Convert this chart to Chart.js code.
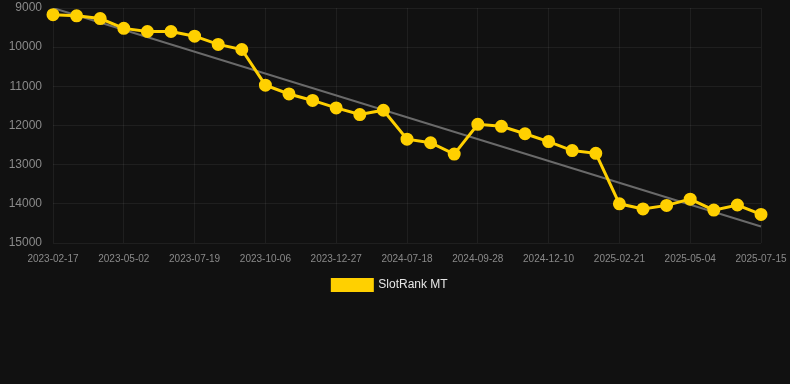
<!DOCTYPE html>
<html>
<head>
<meta charset="utf-8">
<script src="https://cdn.jsdelivr.net/npm/chart.js@4/dist/chart.umd.min.js"></script>
<style>
  html, body { margin: 0; padding: 0; background: #111111; }
  #wrap { width: 790px; height: 384px; }
</style>
</head>
<body>
<div id="wrap"><canvas id="rankChart" width="790" height="384"></canvas></div>
<script>
const dates = [
  "2023-02-17", "2023-03-14", "2023-04-07", "2023-05-02", "2023-05-27", "2023-06-24",
  "2023-07-19", "2023-08-14", "2023-09-10", "2023-10-06", "2023-11-01", "2023-12-01",
  "2023-12-27", "2024-01-25", "2024-05-20", "2024-07-18", "2024-08-12", "2024-09-04",
  "2024-09-28", "2024-10-22", "2024-11-15", "2024-12-10", "2025-01-04", "2025-01-28",
  "2025-02-21", "2025-03-17", "2025-04-10", "2025-05-04", "2025-05-28", "2025-06-21",
  "2025-07-15"
];
const rankValues = [
  9170, 9200, 9270, 9520, 9600, 9600, 9720, 9930, 10060, 10970, 11195,
  11360, 11550, 11720, 11610, 12350, 12440, 12730, 11970, 12020, 12210,
  12410, 12640, 12710, 14000, 14130, 14040, 13880, 14160, 14030, 14270
];
const trendStart = 9000;
const trendEnd = 14580;
const yTicks = [9000, 10000, 11000, 12000, 13000, 14000, 15000];

const trendValues = dates.map((d, i) =>
  i === 0 ? trendStart : (i === dates.length - 1 ? trendEnd : null));

const gridColor = "rgba(255,255,255,0.06)";
const tickColor = "#8a8a8a";

new Chart(document.getElementById("rankChart"), {
  type: "line",
  data: {
    labels: dates,
    datasets: [
      {
        label: "SlotRank MT",
        data: rankValues,
        borderColor: "#ffd000",
        backgroundColor: "#ffd000",
        borderWidth: 3,
        pointRadius: 5,
        pointHoverRadius: 5,
        pointBackgroundColor: "#ffd000",
        pointBorderColor: "#ffd000",
        tension: 0,
        order: 1
      },
      {
        label: "trend",
        data: trendValues,
        borderColor: "#6a6a6a",
        borderWidth: 2,
        pointRadius: 0,
        spanGaps: true,
        order: 2
      }
    ]
  },
  options: {
    responsive: false,
    animation: false,
    layout: { padding: { left: 0, right: 10, top: 6, bottom: 83 } },
    scales: {
      x: {
        grid: {
          color: ctx => (ctx.index % 3 === 0 ? gridColor : "rgba(0,0,0,0)"),
          drawTicks: false
        },
        border: { display: false },
        ticks: {
          color: tickColor,
          font: { family: "Liberation Sans, Arial", size: 10 },
          autoSkip: false,
          maxRotation: 0,
          padding: 10,
          callback: function (val, i) {
            return i % 3 === 0 ? dates[i] : "";
          }
        },
        afterFit: s => {
          s.paddingLeft = 0;
          s.paddingRight = 0;
          s.height = 26;
        }
      },
      y: {
        reverse: true,
        min: 9000,
        max: 15000,
        afterBuildTicks: axis => { axis.ticks = yTicks.map(v => ({ value: v })); },
        grid: { color: gridColor, drawTicks: false },
        border: { display: false },
        ticks: {
          color: tickColor,
          font: { family: "Liberation Sans, Arial", size: 12 },
          padding: 11,
          callback: v => String(v)
        },
        afterFit: s => {
          s.paddingTop = 0;
          s.paddingBottom = 0;
          s.width = 53;
        }
      },
      // empty right-hand axis, only to keep room for the last date label
      ySpacer: {
        position: "right",
        min: 0,
        max: 1,
        grid: { display: false },
        border: { display: false },
        ticks: { display: false },
        afterFit: s => {
          s.paddingTop = 0;
          s.paddingBottom = 0;
          s.width = 19;
        }
      }
    },
    plugins: {
      legend: {
        position: "bottom",
        labels: {
          color: "#e6e6e6",
          boxWidth: 40,
          boxHeight: 11,
          font: { family: "Liberation Sans, Arial", size: 12 },
          filter: item => item.text === "SlotRank MT"
        }
      },
      tooltip: { enabled: false }
    }
  }
});
</script>
</body>
</html>
